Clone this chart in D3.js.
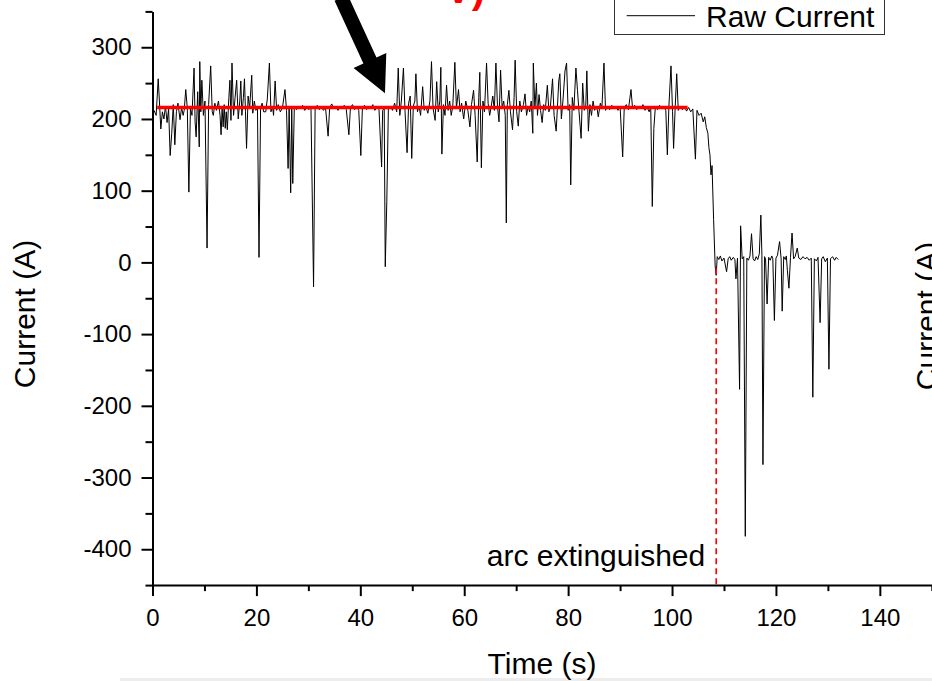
<!DOCTYPE html>
<html>
<head>
<meta charset="utf-8">
<script src="https://cdn.jsdelivr.net/npm/d3@7"></script>
<style>
  html, body { margin: 0; padding: 0; background: #ffffff; }
  svg { display: block; }
  text { font-family: "Liberation Sans", Arial, Helvetica, sans-serif; fill: #000; }
</style>
</head>
<body>
<svg id="chart" width="932" height="681"></svg>
<script>
// ---------------- data ----------------
const xMajorTicks = [0, 20, 40, 60, 80, 100, 120, 140];
const xMinorTicks = [10, 30, 50, 70, 90, 110, 130, 150];
const yMajorTicks = [-400, -300, -200, -100, 0, 100, 200, 300];
const yMinorTicks = [-450, -350, -250, -150, -50, 50, 150, 250, 350];

const seriesName = "Raw Current";
const xTitle = "Time (s)";
const yTitle = "Current (A)";
const extinctionLabel = "arc extinguished";
const redNoteText = "V)";

// [time (s), current (A)]
const rawCurrent = [
  [0.3,212],[0.7,205],[1.1,256],[1.4,215],[1.6,186],[1.9,210],[2.2,200],[2.5,218],[2.8,195],[3.1,214],
  [3.4,149],[3.7,180],[4.0,220],[4.3,164],[4.6,210],[4.9,222],[5.3,199],[5.6,216],[5.9,205],[6.1,212],
  [6.4,241],[6.7,215],[7.0,98],[7.3,215],[7.6,205],[8.0,271],[8.2,196],[8.4,175],[8.7,238],[9.0,161],
  [9.1,280],[9.3,210],[9.5,254],[9.8,205],[10.1,225],[10.5,20],[10.8,220],[11.2,274],[11.5,210],[11.7,205],
  [12.0,222],[12.3,212],[12.7,225],[13.0,205],[13.2,178],[13.4,215],[13.6,189],[13.8,220],[14.0,187],[14.2,210],
  [14.4,185],[14.7,230],[14.9,254],[15.1,198],[15.3,278],[15.6,205],[15.9,230],[16.2,254],[16.5,200],[16.8,225],
  [17.0,253],[17.2,205],[17.5,230],[17.7,256],[17.9,210],[18.1,159],[18.4,232],[18.7,215],[19.1,261],[19.3,208],
  [19.6,225],[19.9,212],[20.2,218],[20.5,7],[20.8,215],[21.1,222],[21.4,210],[21.8,210],[22.1,228],[22.5,278],
  [22.8,210],[23.1,218],[23.3,205],[23.6,253],[23.9,212],[24.2,220],[24.6,210],[25.0,215],[25.5,241],[25.8,212],
  [26.1,131],[26.3,215],[26.6,97],[26.8,214],[27.0,110],[27.3,218],[27.7,213],[28.1,217],[28.5,214],[28.9,219],
  [29.3,212],[29.7,216],[30.1,213],[30.5,218],[31.0,-34],[31.3,214],[31.7,219],[32.1,213],[32.5,217],[32.9,212],
  [33.3,216],[33.8,176],[34.1,216],[34.5,221],[34.9,214],[35.3,217],[35.7,212],[36.1,218],[36.5,214],[36.9,219],
  [37.3,213],[37.8,178],[38.1,216],[38.5,220],[38.9,213],[39.3,217],[39.7,212],[40.1,149],[40.4,216],[40.8,219],
  [41.2,213],[41.6,217],[42.0,214],[42.4,220],[42.8,212],[43.2,216],[43.6,213],[44.1,133],[44.3,212],[44.6,215],
  [44.8,-6],[45.1,85],[45.4,214],[45.8,218],[46.2,212],[46.6,222],[47.0,210],[47.3,271],[47.6,205],[47.9,225],
  [48.3,271],[48.6,212],[49.0,153],[49.3,222],[49.6,232],[49.9,145],[50.2,218],[50.5,225],[50.7,263],[51.0,210],
  [51.3,218],[51.6,205],[52.0,245],[52.3,212],[52.6,218],[53.0,208],[53.4,225],[53.7,280],[54.0,215],[54.4,198],
  [54.7,252],[55.0,210],[55.3,225],[55.5,272],[55.7,151],[56.0,220],[56.3,205],[56.6,247],[56.9,212],[57.2,225],
  [57.5,205],[57.8,218],[58.2,279],[58.5,215],[58.9,241],[59.2,210],[59.5,222],[59.9,200],[60.3,225],[60.7,212],
  [61.1,189],[61.4,220],[61.8,240],[62.1,205],[62.5,140],[62.8,230],[63.0,265],[63.3,132],[63.6,225],[63.9,210],
  [64.3,278],[64.6,222],[64.9,205],[65.2,218],[65.5,232],[65.8,212],[66.1,278],[66.4,218],[66.7,196],[67.0,268],
  [67.3,215],[67.6,225],[67.9,205],[68.1,55],[68.3,220],[68.6,240],[68.9,210],[69.3,185],[69.6,230],[69.8,282],
  [70.1,210],[70.4,190],[70.7,225],[71.0,210],[71.4,220],[71.7,235],[72.0,205],[72.3,218],[72.6,210],[72.9,225],
  [73.2,180],[73.3,278],[73.6,215],[73.9,250],[74.1,205],[74.4,234],[74.7,212],[75.0,195],[75.3,220],[75.6,212],
  [76.0,247],[76.3,210],[76.6,218],[77.0,256],[77.3,205],[77.7,183],[78.0,225],[78.2,253],[78.4,263],[78.7,200],
  [79.0,225],[79.4,267],[79.7,278],[80.0,212],[80.3,220],[80.5,108],[80.8,230],[81.1,212],[81.5,271],[81.8,240],
  [82.1,210],[82.5,173],[82.8,250],[83.1,212],[83.4,218],[83.6,267],[83.9,183],[84.2,220],[84.5,205],[84.8,225],
  [85.1,212],[85.5,218],[85.8,203],[86.2,222],[86.5,215],[86.9,278],[87.2,212],[87.6,218],[88.0,213],[88.4,219],
  [88.8,214],[89.2,217],[89.6,212],[90.0,218],[90.5,147],[90.8,216],[91.2,220],[91.6,213],[92.1,241],[92.4,215],
  [92.8,219],[93.2,213],[93.6,217],[94.0,214],[94.4,220],[94.8,212],[95.2,216],[95.6,210],[95.9,217],[96.2,78],
  [96.5,187],[96.8,218],[97.2,213],[97.6,219],[98.0,214],[98.4,217],[98.8,212],[99.1,150],[99.4,218],[99.8,274],
  [100.1,210],[100.3,159],[100.6,215],[100.9,263],[101.2,212],[101.6,218],[102.0,213],[102.4,217],[102.8,211],[103.2,216],
  [103.6,210],[104.0,214],[104.5,144],[104.8,212],[105.2,205],[105.6,208],[106.0,196],[106.3,203],[106.6,188],[106.9,180],
  [107.1,160],[107.3,150],[107.5,122],[107.7,135],[108.0,60],[108.3,-5],[108.5,-18],[108.7,8],[109.0,4],[109.3,9],
  [109.6,2],[110.0,6],[110.5,-13],[110.8,5],[111.1,8],[111.4,3],[111.8,7],[112.1,4],[112.3,-23],[112.6,6],
  [113.0,-177],[113.2,51],[113.5,5],[113.8,8],[114.1,-382],[114.4,6],[114.7,3],[115.0,9],[115.3,40],[115.6,5],
  [115.9,2],[116.2,8],[116.5,4],[116.8,12],[117.1,66],[117.3,10],[117.5,-282],[117.8,8],[118.0,5],[118.3,-58],
  [118.6,7],[118.9,3],[119.2,9],[119.4,5],[119.7,-81],[120.0,6],[120.3,10],[120.7,29],[121.0,5],[121.2,-68],
  [121.5,8],[121.8,4],[122.0,9],[122.2,-11],[122.5,-36],[122.8,7],[123.1,41],[123.4,5],[123.7,8],[124.1,20],
  [124.4,6],[124.8,4],[125.2,8],[125.6,5],[126.0,7],[126.4,3],[126.8,6],[127.1,-188],[127.4,5],[127.8,2],
  [128.1,7],[128.5,-84],[128.8,5],[129.1,8],[129.5,1],[129.9,6],[130.2,-149],[130.5,5],[130.9,8],[131.3,3],
  [131.6,7],[132.0,4]
];

// mean level line (red) and extinction marker
const meanLine = [[0.9, 216], [103.0, 216]];
const extinctionLine = [[108.5, -8], [108.5, -450]];
// annotation arrow [from, to] in data coordinates
const arrowPath = [[36.3, 369], [44.75, 236]];

// ---------------- layout ----------------
const svg = d3.select("#chart");
const x = d3.scaleLinear().domain([0, 150]).range([152.5, 931.8]);
const y = d3.scaleLinear().domain([-450, 350]).range([585.1, 11.4]);

// bottom faint band
svg.append("rect").attr("x", 120).attr("y", 678).attr("width", 812).attr("height", 3).attr("fill", "#ededed");

// data line
const line = d3.line().x(d => x(d[0])).y(d => y(d[1]));
svg.append("path").datum(rawCurrent)
  .attr("d", line).attr("fill", "none").attr("stroke", "#000").attr("stroke-width", 1);

// mean level
svg.append("path").datum(meanLine).attr("d", line)
  .attr("fill", "none").attr("stroke", "#ff0000").attr("stroke-width", 3.3);

// extinction dashed
svg.append("path").datum(extinctionLine).attr("d", line)
  .attr("fill", "none").attr("stroke", "#ff0000").attr("stroke-width", 1.6).attr("stroke-dasharray", "6,4");

svg.append("text").attr("x", x(108.5) - 11).attr("y", 566)
  .attr("text-anchor", "end").style("font-size", "30px").text(extinctionLabel);

// axes
function styleAxis(g) {
  g.selectAll(".domain").attr("stroke", "#000").attr("stroke-width", 2);
  g.selectAll(".tick line").attr("stroke", "#000").attr("stroke-width", 2);
  g.selectAll(".tick text").style("font-size", "24px").style("font-family", "'Liberation Sans', Arial, sans-serif").attr("fill", "#000");
}
const fmt = d => String(d);
const gy = svg.append("g").attr("transform", `translate(${x(0)},0)`)
  .call(d3.axisLeft(y).tickValues(yMajorTicks).tickSize(11).tickPadding(10).tickSizeOuter(0).tickFormat(fmt));
styleAxis(gy);
const gyMinor = svg.append("g").attr("transform", `translate(${x(0)},0)`)
  .call(d3.axisLeft(y).tickValues(yMinorTicks).tickSize(7).tickSizeOuter(0).tickFormat(""));
gyMinor.select(".domain").remove(); styleAxis(gyMinor);

const gx = svg.append("g").attr("transform", `translate(0,${y(-450)})`)
  .call(d3.axisBottom(x).tickValues(xMajorTicks).tickSize(11).tickPadding(13).tickSizeOuter(0).tickFormat(fmt));
styleAxis(gx);
const gxMinor = svg.append("g").attr("transform", `translate(0,${y(-450)})`)
  .call(d3.axisBottom(x).tickValues(xMinorTicks).tickSize(6).tickSizeOuter(0).tickFormat(""));
gxMinor.select(".domain").remove(); styleAxis(gxMinor);

// axis titles
svg.append("text").attr("x", (x(0) + 931.8) / 2 - 0).attr("y", 674)
  .attr("text-anchor", "middle").style("font-size", "30px").text(xTitle).attr("x", 542);
svg.append("text").attr("transform", "translate(35,314) rotate(-90)")
  .attr("text-anchor", "middle").style("font-size", "30px").text(yTitle);
// neighbouring panel's y title (cut at right edge)
svg.append("text").attr("transform", "translate(937,316) rotate(-90)")
  .attr("text-anchor", "middle").style("font-size", "30px").text(yTitle);

// legend
const lg = svg.append("g");
lg.append("rect").attr("x", 614.5).attr("y", -6).attr("width", 270).attr("height", 40.5)
  .attr("fill", "#fff").attr("stroke", "#333").attr("stroke-width", 1);
lg.append("line").attr("x1", 626.7).attr("x2", 695).attr("y1", 15.7).attr("y2", 15.7)
  .attr("stroke", "#000").attr("stroke-width", 1);
lg.append("text").attr("x", 706).attr("y", 27.3).style("font-size", "30px").text(seriesName);

// red note (mostly cut off at top)
svg.append("text").attr("x", 485).attr("y", 3).attr("text-anchor", "end")
  .style("font-size", "40px").style("font-weight", "bold").attr("fill", "#ff0000").style("fill", "#ff0000").text(redNoteText);

// arrow
const p0 = [x(arrowPath[0][0]), y(arrowPath[0][1])];
const p1 = [x(arrowPath[1][0]), y(arrowPath[1][1])];
const dx = p1[0] - p0[0], dy = p1[1] - p0[1], L = Math.hypot(dx, dy);
const ux = dx / L, uy = dy / L, nx = -uy, ny = ux;
const headLen = 36, headHalf = 18, shaftHalf = 7.2;
const bx = p1[0] - ux * headLen, by = p1[1] - uy * headLen;
const pts = [
  [p0[0] + nx * shaftHalf, p0[1] + ny * shaftHalf],
  [bx + nx * shaftHalf, by + ny * shaftHalf],
  [bx + nx * headHalf, by + ny * headHalf],
  p1,
  [bx - nx * headHalf, by - ny * headHalf],
  [bx - nx * shaftHalf, by - ny * shaftHalf],
  [p0[0] - nx * shaftHalf, p0[1] - ny * shaftHalf]
];
svg.append("polygon").attr("points", pts.map(p => p.join(",")).join(" ")).attr("fill", "#000");
</script>
</body>
</html>
